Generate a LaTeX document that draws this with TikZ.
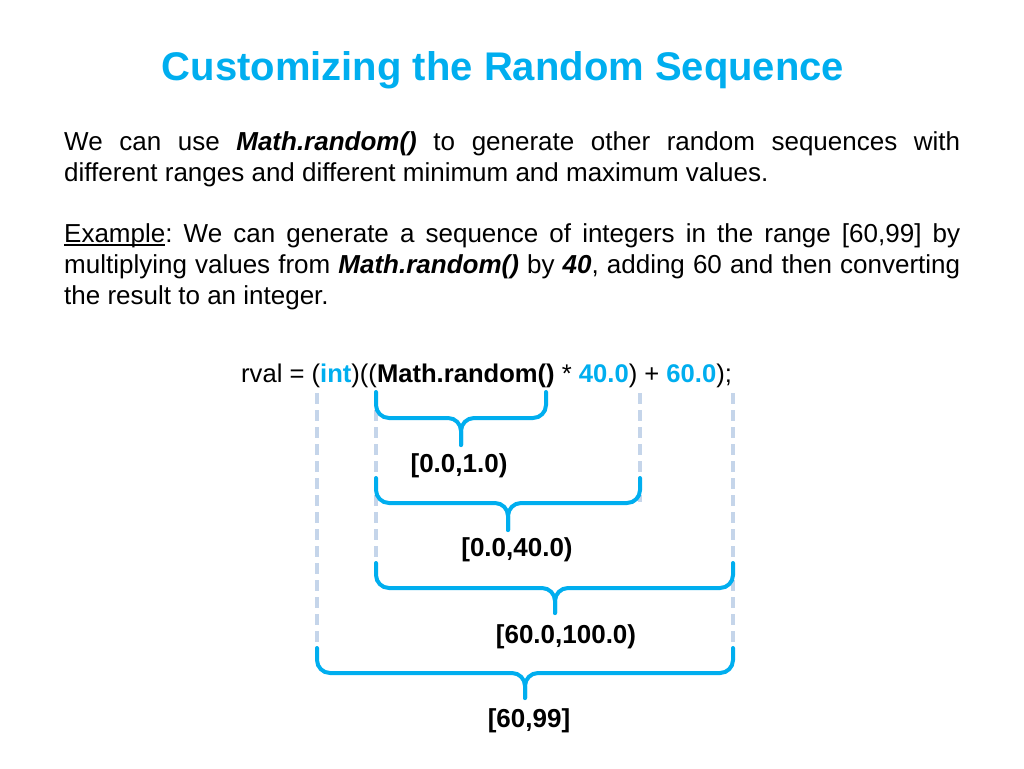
\documentclass[tikz,border=0pt]{standalone}
\usepackage{fontspec}
\setmainfont{Liberation Sans}
\definecolor{titleblue}{HTML}{00AEEF}
\definecolor{guideblue}{HTML}{C5D5EA}
\newcommand{\bodyfont}{\fontsize{26}{31}\selectfont}
\newcommand{\ulword}[1]{\setbox0\hbox{#1}\rlap{\rule[-3.5pt]{\wd0}{1.3pt}}#1}
\frenchspacing

\begin{document}
\begin{tikzpicture}[x=1pt,y=-1pt,
  every node/.style={inner sep=0pt},
  brace/.style={titleblue,line width=4pt,rounded corners=13pt,line cap=round},
  guide/.style={guideblue,line width=4pt,dash pattern=on 11pt off 6pt},
  rangelabel/.style={font=\bodyfont\bfseries}]
\useasboundingbox[fill=white] (0,0) rectangle (1024,768);
% TITLE
\node [anchor=base,font=\fontsize{40}{48}\selectfont\bfseries,text=titleblue] (title) at (503,80) {Customizing the Random Sequence};
% TEXT
\node [anchor=base west,text width=896pt,align=justify,font=\bodyfont] (intro) at (64,150)
  {We can use \textbf{\textit{Math.random()}} to generate other random sequences with\linebreak
   different ranges and different minimum and maximum values.};
\node [anchor=base west,text width=896pt,align=justify,font=\bodyfont] (example) at (64,242)
  {\ulword{Example}: We can generate a sequence of integers in the range [60,99] by\linebreak
   multiplying values from \textbf{\textit{Math.random()}} by \textbf{\textit{40}}, adding 60 and then converting\linebreak
   the result to an integer.};
% CODE LINE
\node [anchor=base west,font=\fontsize{25.6}{31}\selectfont] (code) at (241,382)
  {rval = (\textcolor{titleblue}{\textbf{int}})((\textbf{Math.random()} * \textcolor{titleblue}{\textbf{40.0}}) + \textcolor{titleblue}{\textbf{60.0}});};
% GUIDE LINES
\draw [guide] (317,393) -- (317,648);
\draw [guide] (376,393) -- (376,563);
\draw [guide] (640,393) -- (640,502);
\draw [guide] (733,393) -- (733,648);
% BRACES
\draw [brace] (376,392) |- (461,418) -- (461,445);
\draw [brace] (546,392) |- (461,418) -- (461,445);
\draw [brace] (376,478) |- (508,503) -- (508,530);
\draw [brace] (640,478) |- (508,503) -- (508,530);
\draw [brace] (376,563) |- (555,588) -- (555,613);
\draw [brace] (733,563) |- (555,588) -- (555,613);
\draw [brace] (317,648) |- (525,673) -- (525,698);
\draw [brace] (733,648) |- (525,673) -- (525,698);
% RANGES
\node [rangelabel] (unit) at (459,466) {[0.0,1.0)};
\node [rangelabel] (scaled) at (517,550) {[0.0,40.0)};
\node [rangelabel] (shifted) at (566,637) {[60.0,100.0)};
\node [rangelabel] (result) at (529,721) {[60,99]};
\end{tikzpicture}
\end{document}
